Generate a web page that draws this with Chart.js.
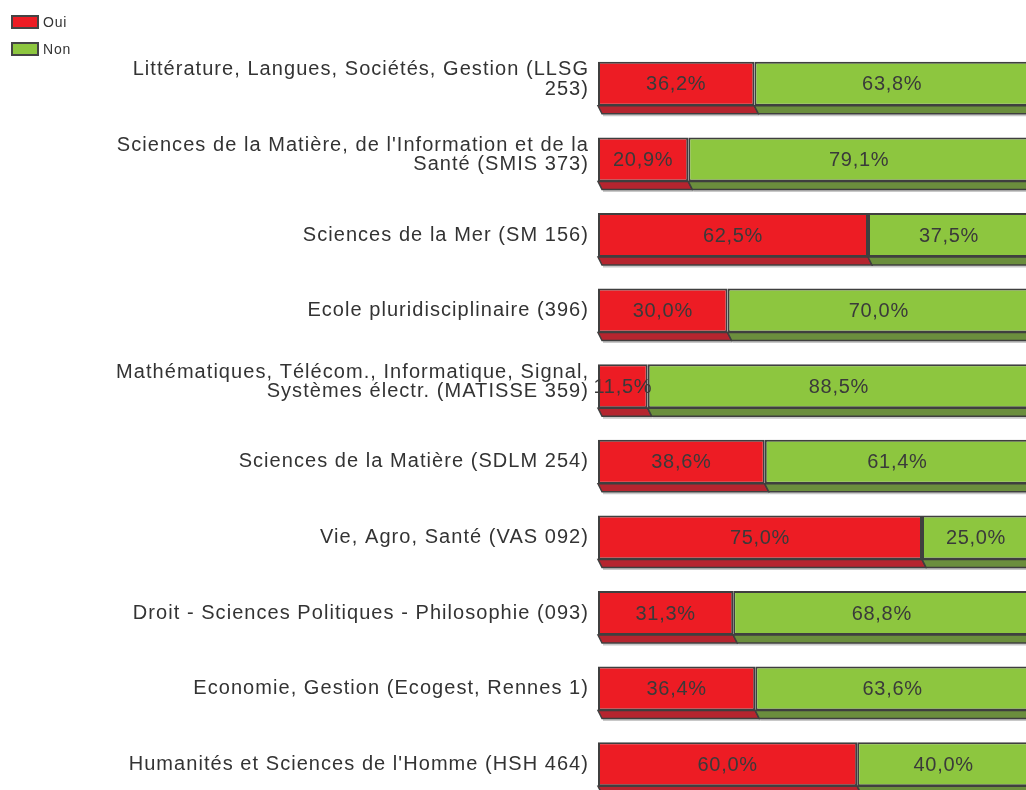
<!DOCTYPE html>
<html>
<head>
<meta charset="utf-8">
<script src="https://cdn.jsdelivr.net/npm/chart.js@4/dist/chart.umd.min.js"></script>
<style>
  html, body { margin: 0; padding: 0; background: #fff; overflow: hidden; }
  #wrap { position: relative; width: 1032px; height: 805px; }
  .legend { position: absolute; left: 11px; font: 14px "Liberation Sans", Arial, sans-serif; letter-spacing: 0.8px; color: #333; }
  .legend .row { display: flex; align-items: center; height: 14px; margin-bottom: 13px; }
  .legend .box { width: 28px; height: 14px; box-sizing: border-box; border: 2px solid #444; margin-right: 4px; }
</style>
</head>
<body>
<div id="wrap">
  <canvas id="chart" width="1032" height="805"></canvas>
  <div class="legend" style="top:15px">
    <div class="row"><div class="box" style="background:#ed1c24"></div>Oui</div>
    <div class="row"><div class="box" style="background:#8dc63f"></div>Non</div>
  </div>
</div>
<script>
const categories = [
  ['Littérature, Langues, Sociétés, Gestion (LLSG', '253)'],
  ["Sciences de la Matière, de l'Information et de la", 'Santé (SMIS 373)'],
  'Sciences de la Mer (SM 156)',
  'Ecole pluridisciplinaire (396)',
  ['Mathématiques, Télécom., Informatique, Signal,', 'Systèmes électr. (MATISSE 359)'],
  'Sciences de la Matière (SDLM 254)',
  'Vie, Agro, Santé (VAS 092)',
  'Droit - Sciences Politiques - Philosophie (093)',
  'Economie, Gestion (Ecogest, Rennes 1)',
  "Humanités et Sciences de l'Homme (HSH 464)"
];
const oui = [36.2, 20.9, 62.5, 30.0, 11.5, 38.6, 75.0, 31.3, 36.4, 60.0];
const non = [63.8, 79.1, 37.5, 70.0, 88.5, 61.4, 25.0, 68.8, 63.6, 40.0];

const FONT = '"Liberation Sans", Arial, sans-serif';

// the original text is set a little loose, so widen the tick labels
const spacing = {
  id: 'spacing',
  beforeDraw(chart) { chart.ctx.letterSpacing = '1.05px'; }
};

// darker "floor" under each bar, like the old 3D office chart
const depthPlugin = {
  id: 'depth',
  beforeDatasetsDraw(chart) {
    const ctx = chart.ctx;
    chart.data.datasets.forEach((ds, i) => {
      const meta = chart.getDatasetMeta(i);
      meta.data.forEach(bar => {
        const left = Math.min(bar.base, bar.x), right = Math.max(bar.base, bar.x);
        const b = bar.y + bar.height / 2;
        ctx.save();
        ctx.beginPath();
        ctx.moveTo(left + 5, b + 9.5);
        ctx.lineTo(right + 5, b + 9.5);
        ctx.lineWidth = 2;
        ctx.strokeStyle = '#c8c8c8';
        ctx.stroke();
        ctx.beginPath();
        ctx.moveTo(left, b);
        ctx.lineTo(right, b);
        ctx.lineTo(right + 4, b + 8);
        ctx.lineTo(left + 4, b + 8);
        ctx.closePath();
        ctx.fillStyle = ds.depthColor;
        ctx.fill();
        ctx.lineWidth = 1.5;
        ctx.strokeStyle = '#3f3f3f';
        ctx.stroke();
        ctx.restore();
      });
    });
  }
};

const valueLabels = {
  id: 'valueLabels',
  afterDatasetsDraw(chart) {
    const ctx = chart.ctx;
    ctx.save();
    ctx.font = '20px ' + FONT;
    ctx.letterSpacing = '0.7px';
    ctx.fillStyle = '#3a3a3a';
    ctx.textAlign = 'center';
    ctx.textBaseline = 'middle';
    chart.data.datasets.forEach((ds, i) => {
      chart.getDatasetMeta(i).data.forEach((bar, j) => {
        const p = bar.getCenterPoint();
        ctx.fillText(ds.data[j].toFixed(1).replace('.', ',') + '%', p.x, p.y + 1);
      });
    });
    ctx.restore();
  }
};

new Chart(document.getElementById('chart'), {
  type: 'bar',
  data: {
    labels: categories,
    datasets: [
      { label: 'Oui', data: oui, backgroundColor: '#ed1c24', depthColor: '#b5252f',
        borderColor: '#3f3f3f', borderWidth: 2, borderSkipped: false },
      { label: 'Non', data: non, backgroundColor: '#8dc63f', depthColor: '#6b8e3d',
        borderColor: '#3f3f3f', borderWidth: 2, borderSkipped: false }
    ]
  },
  options: {
    indexAxis: 'y',
    responsive: false,
    animation: false,
    barPercentage: 0.582,
    categoryPercentage: 1,
    layout: { padding: { top: 46, bottom: 3, right: 2, left: 0 } },
    plugins: { legend: { display: false }, tooltip: { enabled: false } },
    scales: {
      x: { stacked: true, min: 0, max: 100, display: false },
      y: {
        stacked: true,
        grid: { display: false, drawTicks: false },
        border: { display: false },
        afterFit(scale) {
          scale.width = 598;
          scale.paddingTop = 0;
          scale.paddingBottom = 0;
        },
        afterUpdate(scale) {
          // two-line labels sit a few px above the bar centre in the original
          if (scale._liftPatched) return;
          scale._liftPatched = true;
          const orig = scale.getLabelItems.bind(scale);
          scale.getLabelItems = function (area) {
            const items = orig(area);
            items.forEach(it => {
              if (Array.isArray(it.label) && !it._lifted) {
                it.options.translation = [it.options.translation[0], it.options.translation[1] - 4.5];
                it._lifted = true;
              }
            });
            return items;
          };
        },
        ticks: { padding: 9, color: '#333', font: { family: FONT, size: 20, lineHeight: 0.97 } }
      }
    }
  },
  plugins: [spacing, depthPlugin, valueLabels]
});
</script>
</body>
</html>
